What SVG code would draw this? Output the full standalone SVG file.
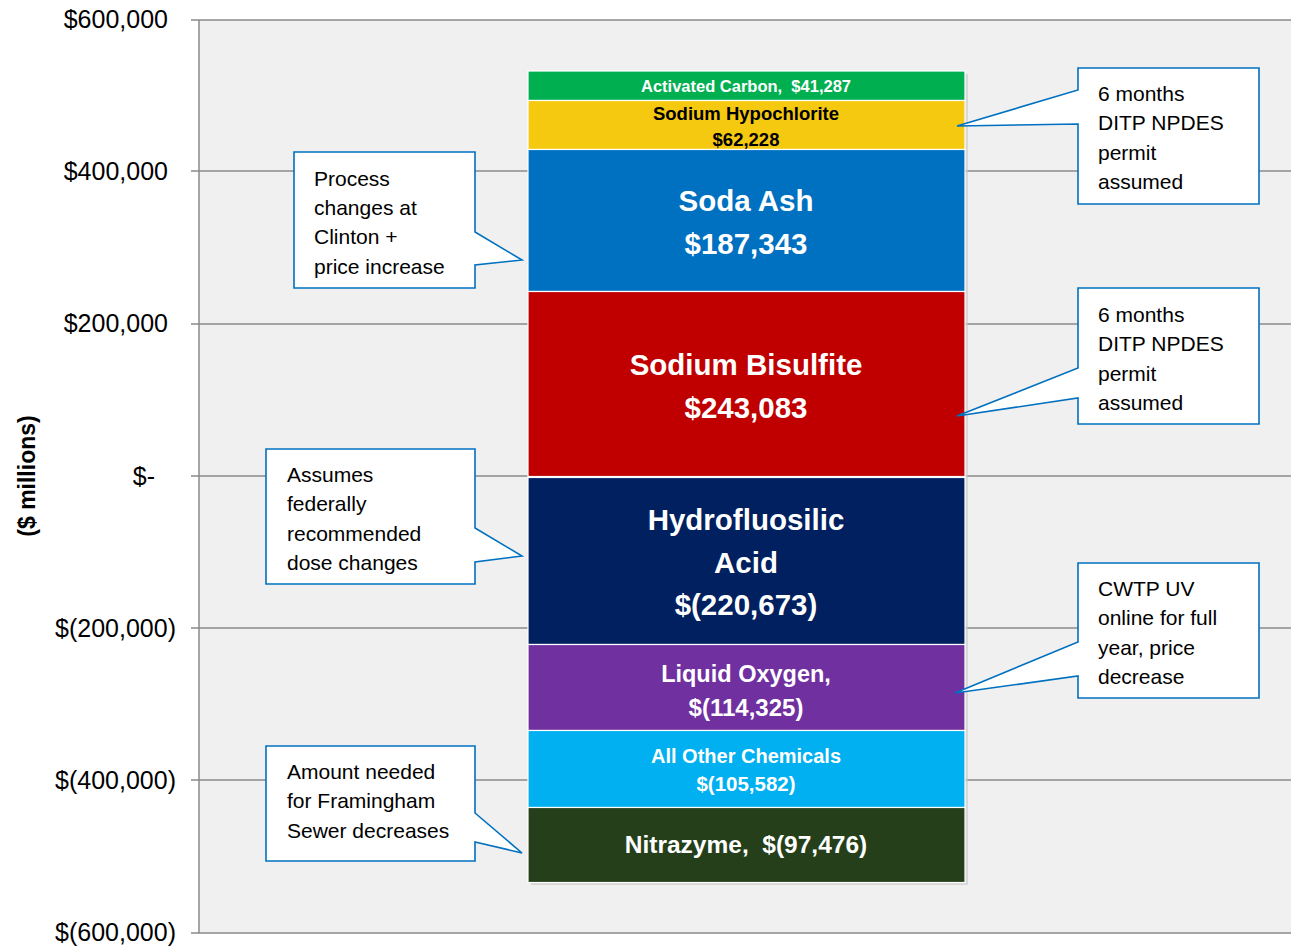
<svg xmlns="http://www.w3.org/2000/svg" width="1291" height="949" viewBox="0 0 1291 949">
<style>
.ax{font-family:"Liberation Sans",Arial,sans-serif;font-size:25px;fill:#000;text-anchor:end}
.grid{stroke:#8a8a8a;stroke-width:1.5;fill:none}
.seg{stroke:#fff;stroke-width:1.2}
.bl{font-family:"Liberation Sans",Arial,sans-serif;font-weight:bold;fill:#fff;text-anchor:middle;white-space:pre}
.co{fill:#fff;stroke:#0070c0;stroke-width:1.6;stroke-linejoin:miter}
.ct{font-family:"Liberation Sans",Arial,sans-serif;font-size:21px;fill:#000}
</style>
<rect x="0" y="0" width="1291" height="949" fill="#fff"/>
<g id="plot">
<rect x="199" y="20" width="1092" height="913" fill="#f0f0f0"/>
<path class="grid" d="M191,20H1291M191,171H1291M191,324H1291M191,476H1291M191,628H1291M191,780H1291M191,933H1291M199,20V933"/>
</g>
<g id="axis-labels">
<text class="ax" x="168" y="28">$600,000</text>
<text class="ax" x="168" y="180">$400,000</text>
<text class="ax" x="168" y="332">$200,000</text>
<text class="ax" x="155" y="485">$-</text>
<text class="ax" x="176" y="637">$(200,000)</text>
<text class="ax" x="176" y="789">$(400,000)</text>
<text class="ax" x="176" y="941">$(600,000)</text>
<text x="0" y="0" transform="translate(35,476) rotate(-90)" font-family="'Liberation Sans',Arial,sans-serif" font-weight="bold" font-size="23" text-anchor="middle">($ millions)</text>
</g>
<g id="bar">
<rect x="531" y="74" width="437" height="811" fill="#c8c8c8" opacity="0.6"/>
<g id="activated-carbon"><rect class="seg" x="528" y="71" width="437" height="29.5" fill="#00b050"/>
<text class="bl" x="746" y="92" font-size="16.5">Activated Carbon,  $41,287</text></g>
<g id="sodium-hypochlorite"><rect class="seg" x="528" y="100.5" width="437" height="49" fill="#f5c910"/>
<text class="bl" x="746" y="120" font-size="18.5" style="fill:#000">Sodium Hypochlorite</text>
<text class="bl" x="746" y="146" font-size="18.5" style="fill:#000">$62,228</text></g>
<g id="soda-ash"><rect class="seg" x="528" y="149.5" width="437" height="142" fill="#0070c0"/>
<text class="bl" x="746" y="211" font-size="29.5">Soda Ash</text>
<text class="bl" x="746" y="254" font-size="29.5">$187,343</text></g>
<g id="sodium-bisulfite"><rect class="seg" x="528" y="291.5" width="437" height="185" fill="#c00000"/>
<text class="bl" x="746" y="375" font-size="29.5">Sodium Bisulfite</text>
<text class="bl" x="746" y="418" font-size="29.5">$243,083</text></g>
<g id="hydrofluosilic-acid"><rect class="seg" x="528" y="477.5" width="437" height="167" fill="#002060"/>
<text class="bl" x="746" y="530" font-size="29.5">Hydrofluosilic</text>
<text class="bl" x="746" y="573" font-size="29.5">Acid</text>
<text class="bl" x="746" y="615" font-size="29.5">$(220,673)</text></g>
<g id="liquid-oxygen"><rect class="seg" x="528" y="644.5" width="437" height="86" fill="#7030a0"/>
<text class="bl" x="746" y="682" font-size="23.5">Liquid Oxygen,</text>
<text class="bl" x="746" y="716" font-size="24">$(114,325)</text></g>
<g id="all-other-chemicals"><rect class="seg" x="528" y="730.5" width="437" height="77" fill="#00b0f0"/>
<text class="bl" x="746" y="763" font-size="20">All Other Chemicals</text>
<text class="bl" x="746" y="791" font-size="20.5">$(105,582)</text></g>
<g id="nitrazyme"><rect class="seg" x="528" y="807.5" width="437" height="75" fill="#243f1a"/>
<text class="bl" x="746" y="853" font-size="24.5">Nitrazyme,  $(97,476)</text></g>
</g>
<g id="connectors"></g>
<g id="callout-soda-ash"><path class="co" d="M294,152H475V232L522,260L475,265V288H294Z"/>
<text class="ct" x="314" y="186">Process</text>
<text class="ct" x="314" y="215">changes at</text>
<text class="ct" x="314" y="244">Clinton +</text>
<text class="ct" x="314" y="274">price increase</text></g>
<g id="callout-hypochlorite"><path class="co" d="M1078,68H1259V204H1078V124L957,126L1078,90Z"/>
<text class="ct" x="1098" y="101">6 months</text>
<text class="ct" x="1098" y="130">DITP NPDES</text>
<text class="ct" x="1098" y="160">permit</text>
<text class="ct" x="1098" y="189">assumed</text></g>
<g id="callout-bisulfite"><path class="co" d="M1078,288H1259V424H1078V398L957,416L1078,368Z"/>
<text class="ct" x="1098" y="322">6 months</text>
<text class="ct" x="1098" y="351">DITP NPDES</text>
<text class="ct" x="1098" y="381">permit</text>
<text class="ct" x="1098" y="410">assumed</text></g>
<g id="callout-hydrofluosilic"><path class="co" d="M266,449H475V528L522,556L475,562V584H266Z"/>
<text class="ct" x="287" y="482">Assumes</text>
<text class="ct" x="287" y="511">federally</text>
<text class="ct" x="287" y="541">recommended</text>
<text class="ct" x="287" y="570">dose changes</text></g>
<g id="callout-oxygen"><path class="co" d="M1078,563H1259V698H1078V676L955,693L1078,642Z"/>
<text class="ct" x="1098" y="596">CWTP UV</text>
<text class="ct" x="1098" y="625">online for full</text>
<text class="ct" x="1098" y="655">year, price</text>
<text class="ct" x="1098" y="684">decrease</text></g>
<g id="callout-nitrazyme"><path class="co" d="M266,746H475V813L522,853L475,842V861H266Z"/>
<text class="ct" x="287" y="779">Amount needed</text>
<text class="ct" x="287" y="808">for Framingham</text>
<text class="ct" x="287" y="838">Sewer decreases</text></g>
</svg>
